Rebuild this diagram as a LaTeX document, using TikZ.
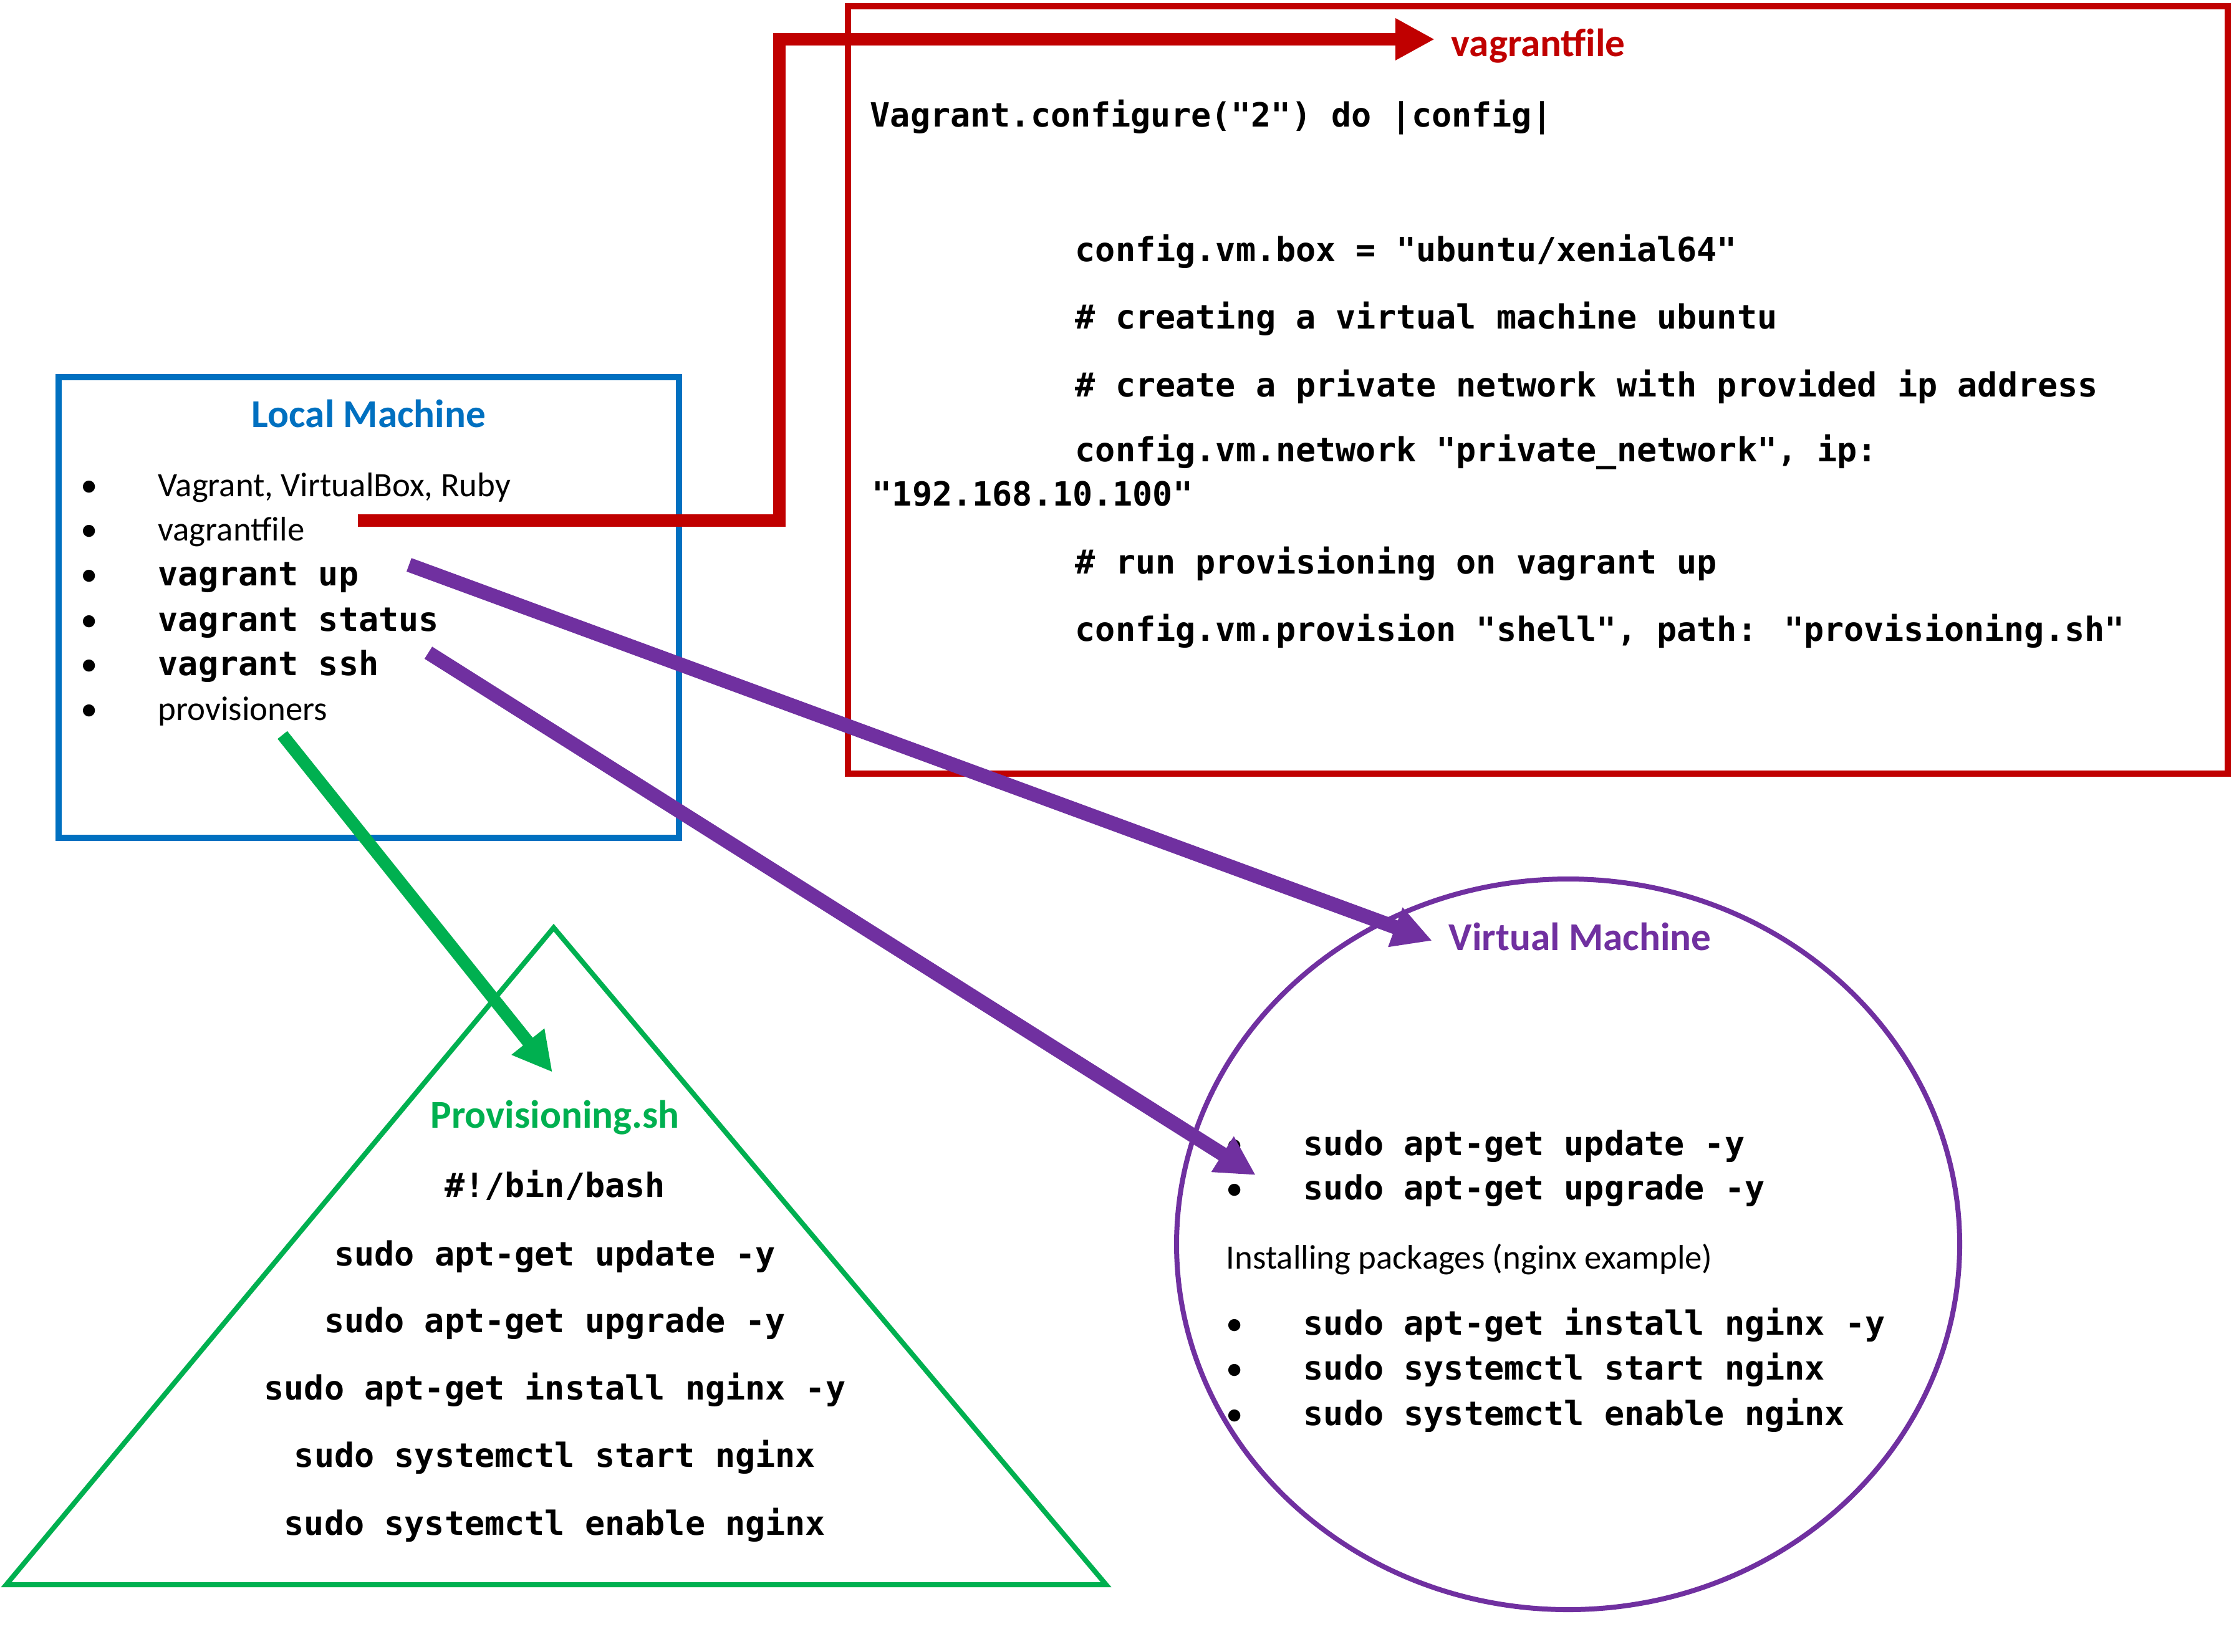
\documentclass[tikz,border=0pt]{standalone}
\usepackage{fontspec}
\setmainfont{Carlito}
\newfontfamily\codefont{DejaVu Sans Mono}
\usepackage{tikz}
\usepackage{xcolor}
\usetikzlibrary{
    arrows.meta,
    shapes.geometric
}
\definecolor{lmblue}{HTML}{0070C0}
\definecolor{cfgred}{HTML}{C00000}
\definecolor{vmpurple}{HTML}{7030A0}
\definecolor{provgreen}{HTML}{00B050}
\newcommand{\bul}{\makebox[1.24cm][l]{•}}
\newcommand{\cmd}[1]{{\codefont\bfseries\fontsize{15.2}{18}\selectfont #1}}

\begin{document}
\begin{tikzpicture}[x=1cm, y=1cm,
    every node/.style={inner sep=0pt},
    head/.style={font=\fontsize{18}{22}\selectfont\bfseries},
    txt/.style={font=\fontsize{15.6}{19}\selectfont, anchor=base west},
    code/.style={font=\codefont\bfseries\fontsize{15.2}{18}\selectfont, anchor=base west},
    codec/.style={code, anchor=base},
    fat/.style={line width=2mm, -{Triangle[length=6.3mm, width=6.3mm]}}]
                                    \useasboundingbox (0,0) rectangle (35.83,-26.49);
                                    \node[draw=lmblue, line width=0.95mm, minimum width=9.95cm, minimum height=7.39cm] (local) at (5.915,-9.745) {};
                                    \node[draw=cfgred, line width=1mm, minimum width=22.13cm, minimum height=12.31cm] (cfgbox) at (24.665,-6.255) {};
                                    \node[ellipse, draw=vmpurple, line width=0.8mm, minimum width=12.56cm, minimum height=11.72cm] (vm) at (25.15,-19.96) {};
                                    \draw[provgreen, line width=0.8mm] (8.88,-14.88) -- (17.74,-25.42) -- (0.10,-25.42) -- cycle;
                                    \node[head, text=lmblue, anchor=base] (lmtitle) at (5.915,-6.85) {Local Machine};
                                    \node[txt] (lm1) at (1.29,-7.96) {\bul Vagrant, VirtualBox, Ruby};
                                    \node[txt] (lm2) at (1.29,-8.67) {\bul vagrantfile};
                                    \node[txt] (lm3) at (1.29,-9.39) {\bul\cmd{vagrant up}};
                                    \node[txt] (lm4) at (1.29,-10.12) {\bul\cmd{vagrant status}};
                                    \node[txt] (lm5) at (1.29,-10.83) {\bul\cmd{vagrant ssh}};
                                    \node[txt] (lm6) at (1.29,-11.55) {\bul provisioners};
                                    \node[head, text=cfgred, anchor=base west] (vflabel) at (23.27,-0.90) {vagrantfile};
                                    \node[code] (cfg0) at (13.95,-2.03) {Vagrant.configure("2") do |config|};
                                    \node[code] (cfg1) at (17.24,-4.19) {config.vm.box = "ubuntu/xenial64"};
                                    \node[code] (cfg2) at (17.24,-5.27) {\# creating a virtual machine ubuntu};
                                    \node[code] (cfg3) at (17.24,-6.36) {\# create a private network with provided ip address};
                                    \node[code] (cfg4) at (17.24,-7.40) {config.vm.network "private\_network", ip:};
                                    \node[code] (cfg5) at (13.98,-8.11) {"192.168.10.100"};
                                    \node[code] (cfg6) at (17.24,-9.20) {\# run provisioning on vagrant up};
                                    \node[code] (cfg7) at (17.24,-10.28) {config.vm.provision "shell", path: "provisioning.sh"};
                                    \node[head, text=provgreen, anchor=base] (provtitle) at (8.90,-18.09) {Provisioning.sh};
                                    \node[codec] (prov1) at (8.90,-19.20) {\#!/bin/bash};
                                    \node[codec] (prov2) at (8.90,-20.30) {sudo apt-get update -y};
                                    \node[codec] (prov3) at (8.90,-21.37) {sudo apt-get upgrade -y};
                                    \node[codec] (prov4) at (8.90,-22.45) {sudo apt-get install nginx -y};
                                    \node[codec] (prov5) at (8.90,-23.53) {sudo systemctl start nginx};
                                    \node[codec] (prov6) at (8.90,-24.62) {sudo systemctl enable nginx};
                                    \node[head, text=vmpurple, anchor=base west] (vmtitle) at (23.23,-15.24) {Virtual Machine};
                                    \node[txt] (vm1) at (19.66,-18.53) {\bul\cmd{sudo apt-get update -y}};
                                    \node[txt] (vm2) at (19.66,-19.24) {\bul\cmd{sudo apt-get upgrade -y}};
                                    \node[txt] (vmnote) at (19.66,-20.35) {Installing packages (nginx example)};
                                    \node[txt] (vm3) at (19.66,-21.41) {\bul\cmd{sudo apt-get install nginx -y}};
                                    \node[txt] (vm4) at (19.66,-22.13) {\bul\cmd{sudo systemctl start nginx}};
                                    \node[txt] (vm5) at (19.66,-22.86) {\bul\cmd{sudo systemctl enable nginx}};
                                    \coordinate (filestart) at (5.74,-8.35);
                                    \coordinate (upstart) at (6.56,-9.06);
                                    \coordinate (sshstart) at (6.87,-10.47);
                                    \coordinate (provstart) at (4.53,-11.79);
                                    \draw[fat, cfgred] (filestart) -- ++(6.76,0) |- ([shift={(-0.26,0.27)}]vflabel.base west);
                                    \draw[fat, vmpurple, line width=2.3mm] (upstart) -- ([shift={(-0.26,0.15)}]vmtitle.base west);
                                    \draw[fat, vmpurple, line width=2.3mm] (sshstart) -- ([shift={(0.48,-0.32)}]vm1.base west);
                                    \draw[fat, provgreen] (provstart) -- ([shift={(-0.04,0.89)}]provtitle.base);
                                \end{tikzpicture}
\end{document}
